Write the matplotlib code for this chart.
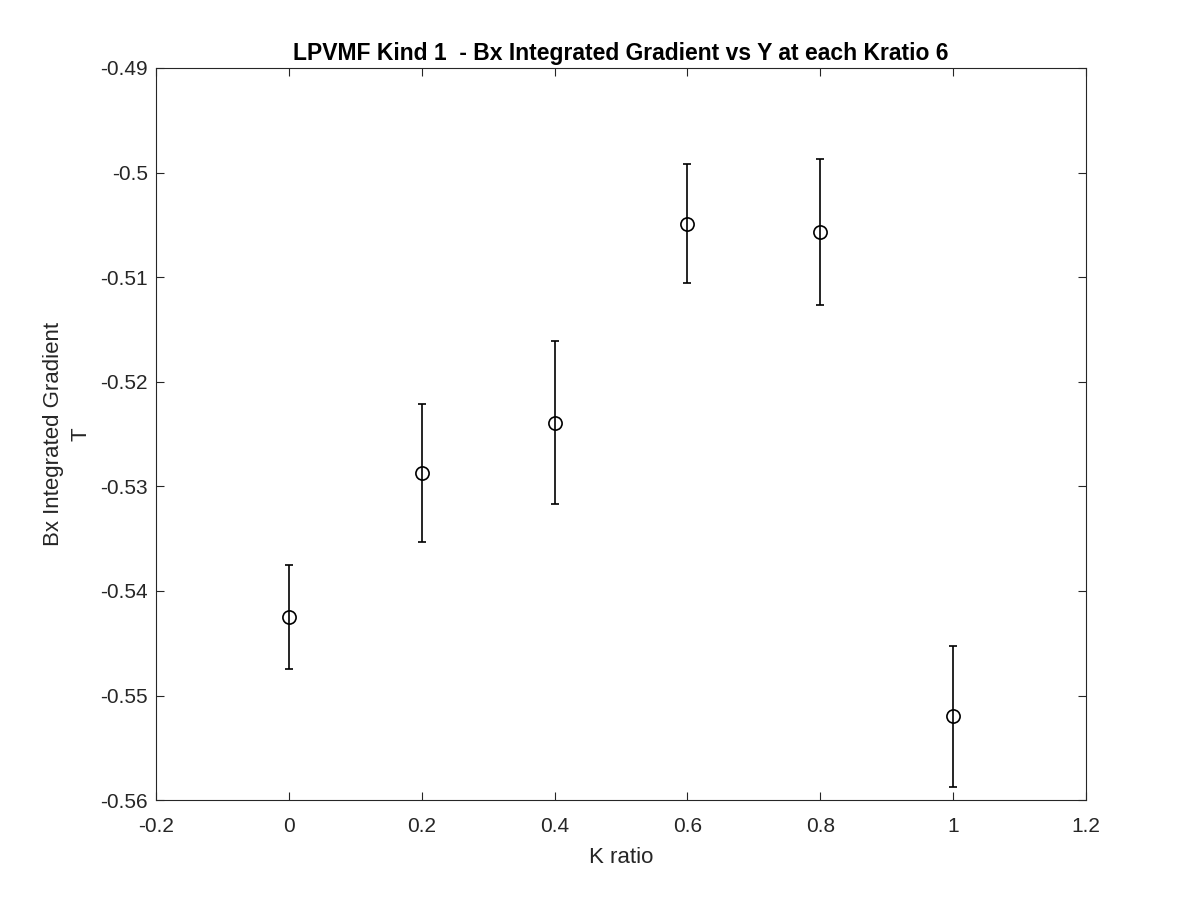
import matplotlib
matplotlib.use("Agg")
import matplotlib.pyplot as plt

k_ratio = [0.0, 0.2, 0.4, 0.6, 0.8, 1.0]
bx_grad = [-0.5425, -0.5287, -0.5239, -0.5049, -0.5057, -0.5520]
bx_err = [0.0050, 0.0066, 0.0078, 0.0057, 0.0070, 0.0067]

plt.rcParams['font.family'] = ['Liberation Sans', 'DejaVu Sans']

fig = plt.figure(figsize=(12, 9), dpi=100)
ax = fig.add_axes([0.13, 0.111, 0.775, 0.8135])
ax.errorbar(k_ratio, bx_grad, yerr=bx_err, fmt='o', color='black',
            mfc='none', mec='black', markersize=9.5, mew=1.2,
            elinewidth=1.2, capsize=3, capthick=1.2)
ax.set_xlim(-0.2, 1.2)
ax.set_ylim(-0.56, -0.49)
ax.set_xticks([-0.2, 0, 0.2, 0.4, 0.6, 0.8, 1.0, 1.2])
ax.set_xticklabels(['-0.2', '0', '0.2', '0.4', '0.6', '0.8', '1', '1.2'])
ax.set_yticks([-0.56, -0.55, -0.54, -0.53, -0.52, -0.51, -0.5, -0.49])
ax.set_yticklabels(['-0.56', '-0.55', '-0.54', '-0.53', '-0.52', '-0.51', '-0.5', '-0.49'])
ax.tick_params(direction='in', top=True, right=True, length=6, width=0.8,
               labelsize=15, colors='#262626', labelcolor='#262626')
ax.tick_params(axis='y', pad=6)
ax.tick_params(axis='x', pad=12)
for s in ax.spines.values():
    s.set_linewidth(0.8)
    s.set_color('#262626')
ax.set_xlabel('K ratio', fontsize=16, color='#262626', labelpad=8)
ax.set_ylabel('Bx Integrated Gradient\nT', fontsize=16, color='#262626',
              linespacing=1.45, labelpad=6)
ax.set_title('LPVMF Kind 1  - Bx Integrated Gradient vs Y at each Kratio 6',
             fontsize=16.5, fontweight='bold', pad=6)
fig.savefig('out.png', dpi=100, facecolor='white')
